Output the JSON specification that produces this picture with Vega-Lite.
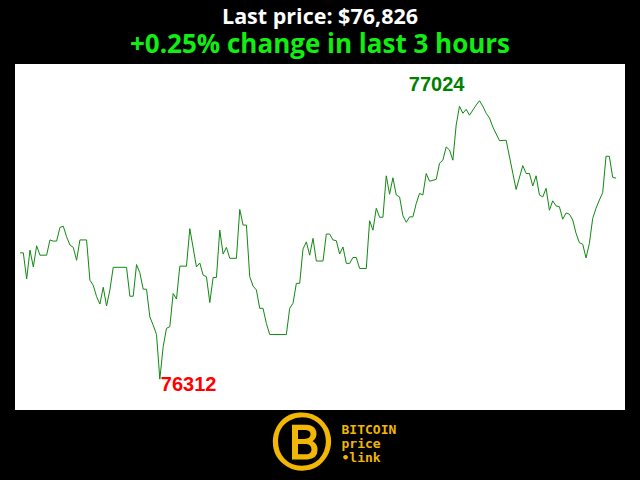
{
  "$schema": "https://vega.github.io/schema/vega-lite/v6.json",
  "width": 610,
  "height": 346,
  "autosize": {"type": "none"},
  "padding": {"left": 15, "top": 64, "right": 15, "bottom": 70},
  "background": "black",
  "view": {"fill": "white", "stroke": null},
  "title": {
    "text": "Last price: $76,826",
    "subtitle": "+0.25% change in last 3 hours",
    "anchor": "middle",
    "color": "white",
    "font": "Open Sans",
    "fontWeight": "bold",
    "fontSize": 21.5,
    "subtitleColor": "#11ee11",
    "subtitleFont": "Open Sans",
    "subtitleFontWeight": "bold",
    "subtitleFontSize": 26,
    "subtitlePadding": 4,
    "offset": 6
  },
  "data": {
    "values": [
      {"i": 0, "price": 76635}, {"i": 1, "price": 76635}, {"i": 2, "price": 76568}, {"i": 3, "price": 76642},
      {"i": 4, "price": 76599}, {"i": 5, "price": 76653}, {"i": 6, "price": 76629}, {"i": 8, "price": 76629},
      {"i": 9, "price": 76668}, {"i": 10, "price": 76665}, {"i": 11, "price": 76665}, {"i": 12, "price": 76700},
      {"i": 13, "price": 76703}, {"i": 14, "price": 76676}, {"i": 15, "price": 76655}, {"i": 16, "price": 76649},
      {"i": 17, "price": 76616}, {"i": 18, "price": 76668}, {"i": 20, "price": 76668}, {"i": 21, "price": 76565},
      {"i": 22, "price": 76552}, {"i": 23, "price": 76523}, {"i": 24, "price": 76504}, {"i": 25, "price": 76547},
      {"i": 26, "price": 76499}, {"i": 27, "price": 76540}, {"i": 28, "price": 76598}, {"i": 32, "price": 76598},
      {"i": 33, "price": 76524}, {"i": 34, "price": 76524}, {"i": 35, "price": 76605}, {"i": 36, "price": 76584},
      {"i": 37, "price": 76542}, {"i": 38, "price": 76542}, {"i": 39, "price": 76471}, {"i": 40, "price": 76450},
      {"i": 41, "price": 76426}, {"i": 42, "price": 76312}, {"i": 43, "price": 76395}, {"i": 44, "price": 76442},
      {"i": 45, "price": 76446}, {"i": 46, "price": 76531}, {"i": 47, "price": 76517}, {"i": 48, "price": 76601},
      {"i": 50, "price": 76601}, {"i": 51, "price": 76697}, {"i": 53, "price": 76599}, {"i": 54, "price": 76609},
      {"i": 55, "price": 76578}, {"i": 56, "price": 76574}, {"i": 57, "price": 76508}, {"i": 58, "price": 76572},
      {"i": 59, "price": 76572}, {"i": 60, "price": 76693}, {"i": 61, "price": 76632}, {"i": 62, "price": 76649},
      {"i": 63, "price": 76621}, {"i": 65, "price": 76621}, {"i": 66, "price": 76746}, {"i": 67, "price": 76706},
      {"i": 68, "price": 76706}, {"i": 69, "price": 76574}, {"i": 70, "price": 76550}, {"i": 71, "price": 76540},
      {"i": 72, "price": 76493}, {"i": 73, "price": 76493}, {"i": 74, "price": 76454}, {"i": 75, "price": 76426},
      {"i": 80, "price": 76426}, {"i": 81, "price": 76493}, {"i": 82, "price": 76506}, {"i": 83, "price": 76557},
      {"i": 84, "price": 76557}, {"i": 85, "price": 76645}, {"i": 86, "price": 76663}, {"i": 87, "price": 76629},
      {"i": 88, "price": 76672}, {"i": 89, "price": 76614}, {"i": 91, "price": 76614}, {"i": 92, "price": 76683},
      {"i": 93, "price": 76683}, {"i": 94, "price": 76668}, {"i": 95, "price": 76666}, {"i": 96, "price": 76632},
      {"i": 97, "price": 76650}, {"i": 98, "price": 76608}, {"i": 99, "price": 76608}, {"i": 100, "price": 76623},
      {"i": 101, "price": 76623}, {"i": 102, "price": 76595}, {"i": 104, "price": 76595}, {"i": 105, "price": 76717},
      {"i": 106, "price": 76693}, {"i": 107, "price": 76749}, {"i": 108, "price": 76726}, {"i": 109, "price": 76726},
      {"i": 110, "price": 76832}, {"i": 111, "price": 76785}, {"i": 112, "price": 76827}, {"i": 113, "price": 76783},
      {"i": 114, "price": 76778}, {"i": 115, "price": 76730}, {"i": 116, "price": 76713}, {"i": 117, "price": 76727},
      {"i": 118, "price": 76727}, {"i": 119, "price": 76761}, {"i": 120, "price": 76787}, {"i": 121, "price": 76783},
      {"i": 122, "price": 76838}, {"i": 123, "price": 76818}, {"i": 125, "price": 76823}, {"i": 126, "price": 76864},
      {"i": 127, "price": 76872}, {"i": 128, "price": 76906}, {"i": 129, "price": 76898}, {"i": 130, "price": 76872},
      {"i": 131, "price": 76962}, {"i": 132, "price": 77010}, {"i": 133, "price": 76992}, {"i": 134, "price": 77002},
      {"i": 135, "price": 76987}, {"i": 137, "price": 77013}, {"i": 138, "price": 77024}, {"i": 139, "price": 77010},
      {"i": 140, "price": 76992}, {"i": 141, "price": 76980}, {"i": 142, "price": 76957}, {"i": 144, "price": 76922},
      {"i": 146, "price": 76923}, {"i": 149, "price": 76797}, {"i": 151, "price": 76858}, {"i": 152, "price": 76838},
      {"i": 153, "price": 76838}, {"i": 154, "price": 76806}, {"i": 155, "price": 76832}, {"i": 156, "price": 76783},
      {"i": 157, "price": 76778}, {"i": 158, "price": 76800}, {"i": 159, "price": 76744}, {"i": 160, "price": 76768},
      {"i": 161, "price": 76755}, {"i": 162, "price": 76753}, {"i": 163, "price": 76721}, {"i": 164, "price": 76737},
      {"i": 165, "price": 76734}, {"i": 166, "price": 76719}, {"i": 167, "price": 76685}, {"i": 168, "price": 76661},
      {"i": 169, "price": 76657}, {"i": 170, "price": 76622}, {"i": 171, "price": 76659}, {"i": 172, "price": 76723},
      {"i": 173, "price": 76749}, {"i": 174, "price": 76770}, {"i": 175, "price": 76789}, {"i": 176, "price": 76882},
      {"i": 177, "price": 76882}, {"i": 178, "price": 76828}, {"i": 179, "price": 76826}
    ]
  },
  "encoding": {
    "x": {
      "field": "i",
      "type": "quantitative",
      "scale": {"domain": [-1.5, 181.7], "nice": false, "zero": false},
      "axis": {
        "labels": false, "ticks": false, "domain": false, "grid": false,
        "title": "Ⓑ",
        "titleColor": "#f2b705",
        "titleFont": "DejaVu Sans",
        "titleFontWeight": "bold",
        "titleFontSize": 60,
        "titleX": 286,
        "titleY": 34,
        "titleAlign": "center",
        "titleBaseline": "middle"
      }
    },
    "y": {
      "field": "price",
      "type": "quantitative",
      "scale": {"domain": [76233, 77118], "nice": false, "zero": false},
      "axis": {
        "labels": false, "ticks": false, "domain": false, "grid": false,
        "title": ["BITCOIN", "price", "•link"],
        "titleAngle": 0,
        "titleX": 326,
        "titleY": 359,
        "titleAlign": "left",
        "titleBaseline": "top",
        "titleColor": "#f2b705",
        "titleFont": "DejaVu Sans Mono",
        "titleFontWeight": "bold",
        "titleFontSize": 13,
        "titleLineHeight": 14
      }
    }
  },
  "layer": [
    {
      "mark": {"type": "line", "color": "#118811", "strokeWidth": 1, "interpolate": "linear"}
    },
    {
      "transform": [
        {"joinaggregate": [{"op": "min", "field": "price", "as": "pmin"}]},
        {"filter": "datum.price == datum.pmin"}
      ],
      "mark": {"type": "text", "color": "#ff0000", "font": "Liberation Sans", "fontWeight": "bold", "fontSize": 20, "align": "left", "baseline": "alphabetic", "dx": 1, "dy": 12},
      "encoding": {"text": {"field": "price", "type": "quantitative", "format": "d"}}
    },
    {
      "transform": [
        {"joinaggregate": [{"op": "max", "field": "price", "as": "pmax"}]},
        {"filter": "datum.price == datum.pmax"}
      ],
      "mark": {"type": "text", "color": "#008000", "font": "Liberation Sans", "fontWeight": "bold", "fontSize": 20, "align": "right", "baseline": "alphabetic", "dx": -15, "dy": -10},
      "encoding": {"text": {"field": "price", "type": "quantitative", "format": "d"}}
    }
  ]
}
